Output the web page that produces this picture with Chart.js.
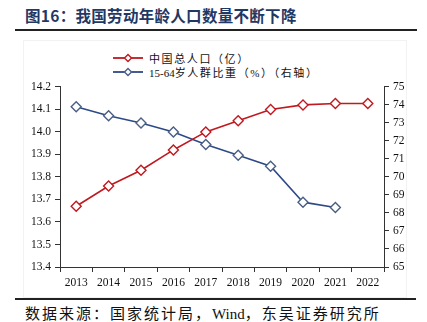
<!DOCTYPE html>
<html><head><meta charset="utf-8">
<script src="https://cdn.jsdelivr.net/npm/chart.js@4"></script>
<style>
html,body{margin:0;padding:0;background:#fff;}
#wrap{position:relative;width:427px;height:322px;overflow:hidden;}
#title{position:absolute;left:25px;top:4px;font-family:"Noto Sans CJK SC",sans-serif;font-weight:700;font-size:15.5px;color:#1F3864;white-space:nowrap;letter-spacing:0.3px;}
#tline{position:absolute;left:15px;top:29px;width:402px;height:2px;background:#222;}
#fline{position:absolute;left:15px;top:298px;width:401px;height:1.5px;background:#222;}
#source{position:absolute;left:25px;top:302px;font-family:"Liberation Serif","Noto Sans CJK SC",serif;font-size:15px;color:#111;white-space:nowrap;letter-spacing:2px;}
#frame{position:absolute;left:23px;top:40px;width:382px;height:256px;border:1px solid #f2f2f2;}
.leg{position:absolute;left:113px;font-family:"Liberation Serif","Noto Sans CJK SC",serif;font-size:11px;color:#111;white-space:nowrap;display:flex;align-items:center;letter-spacing:1.6px;}
.leg svg{margin-right:6px;}
.tight{letter-spacing:0;}
#cv{position:absolute;left:0;top:76px;}
</style></head>
<body><div id="wrap">
<div id="title">图16：我国劳动年龄人口数量不断下降</div>
<div id="tline"></div>
<div id="frame"></div>
<div class="leg" style="top:50px"><svg width="30" height="10"><line x1="0" y1="5" x2="30" y2="5" stroke="#C0191F" stroke-width="1.8"/><path d="M15 1.5 L18.5 5 L15 8.5 L11.5 5 Z" fill="#fff" stroke="#C0191F" stroke-width="1.4"/></svg><span>中国总人口（亿）</span></div>
<div class="leg" style="top:64px"><svg width="30" height="10"><line x1="0" y1="5" x2="30" y2="5" stroke="#2E4A86" stroke-width="1.8"/><path d="M15 1.5 L18.5 5 L15 8.5 L11.5 5 Z" fill="#fff" stroke="#4A5E86" stroke-width="1.4"/></svg><span><span class="tight">15-64</span>岁人群比重（%）（右轴）</span></div>
<canvas id="cv" width="427" height="222"></canvas>
<div id="fline"></div>
<div id="source">数据来源：国家统计局，<span class="tight">Wind</span>，东吴证券研究所</div>
</div>
<script>
const years = ['2013','2014','2015','2016','2017','2018','2019','2020','2021','2022'];
const totalPop = [13.67, 13.76, 13.83, 13.92, 14.00, 14.05, 14.10, 14.12, 14.126, 14.126];
const workingShare = [73.9, 73.4, 73.0, 72.5, 71.8, 71.2, 70.6, 68.6, 68.3, null];
const leftTicks = [13.4, 13.5, 13.6, 13.7, 13.8, 13.9, 14.0, 14.1, 14.2];
const rightTicks = [65, 66, 67, 68, 69, 70, 71, 72, 73, 74, 75];

const font = {family: "'Liberation Serif', 'Times New Roman', serif", size: 11.5};
const axisColor = '#333';

new Chart(document.getElementById('cv'), {
  type: 'line',
  data: {
    labels: years,
    datasets: [
      {label: '中国总人口（亿）', data: totalPop, yAxisID: 'y', borderColor: '#C0191F', borderWidth: 1.6,
       pointStyle: 'rectRot', pointRadius: 5, pointBorderWidth: 1.4, pointBackgroundColor: '#fff', pointBorderColor: '#C0191F', tension: 0},
      {label: '15-64岁人群比重（%）（右轴）', data: workingShare, yAxisID: 'y1', borderColor: '#2E4A86', borderWidth: 1.6,
       pointStyle: 'rectRot', pointRadius: 5, pointBorderWidth: 1.4, pointBackgroundColor: '#fff', pointBorderColor: '#4A5E86', tension: 0}
    ]
  },
  options: {
    responsive: false, animation: false, devicePixelRatio: 1,
    layout: {padding: {top: 10, left: 0, right: 0, bottom: 0}},
    plugins: {legend: {display: false}, tooltip: {enabled: false}},
    scales: {
      x: {
        offset: true,
        grid: {offset: true, drawOnChartArea: false, drawTicks: true, tickLength: 5, color: axisColor},
        border: {color: axisColor, width: 1},
        ticks: {font: font, color: '#111', padding: 4, maxRotation: 0, autoSkip: false},
        afterFit: s => { s.height = 31; }
      },
      y: {
        position: 'left', min: 13.4, max: 14.2,
        afterBuildTicks: s => { s.ticks = leftTicks.map(v => ({value: v})); },
        grid: {drawOnChartArea: false, tickLength: 5, color: axisColor},
        border: {color: axisColor, width: 1},
        ticks: {font: font, color: '#111', padding: 4, callback: v => v.toFixed(1)},
        afterFit: s => { s.width = 60; }
      },
      y1: {
        position: 'right', min: 65, max: 75,
        afterBuildTicks: s => { s.ticks = rightTicks.map(v => ({value: v})); },
        grid: {drawOnChartArea: false, tickLength: 5, color: axisColor},
        border: {color: axisColor, width: 1},
        ticks: {font: font, color: '#111', padding: 4, callback: v => String(v)},
        afterFit: s => { s.width = 43; }
      }
    }
  }
});
</script>
</body></html>
